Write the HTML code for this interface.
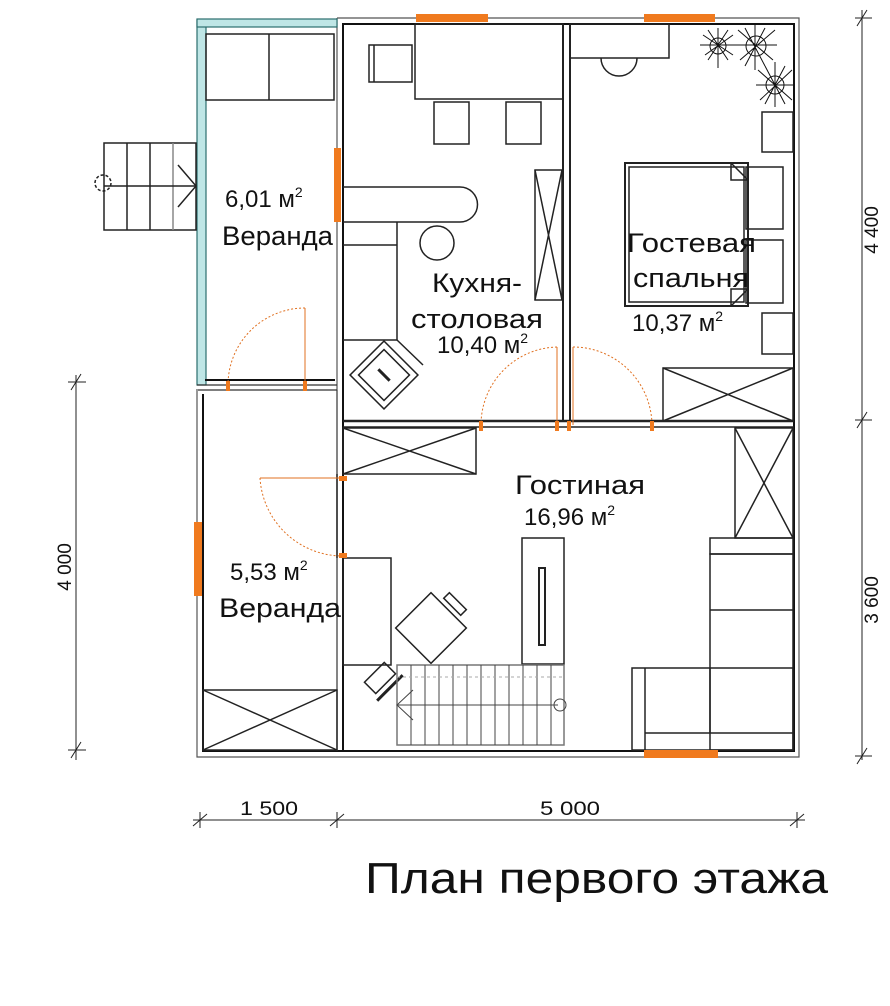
<!DOCTYPE html>
<html><head><meta charset="utf-8">
<style>
html,body{margin:0;padding:0;background:#fff;}
svg{display:block;}
text{font-family:"Liberation Sans",sans-serif;fill:#111;}
</style></head><body>
<svg width="890" height="1006" viewBox="0 0 890 1006" xmlns="http://www.w3.org/2000/svg">
<g fill="none" stroke="#222" stroke-width="1.5">
<path d="M337 18 H799 V757 H197 V389" stroke="#555" stroke-width="1.2"/>
<path d="M342 24 H794 V751 H203 V394" stroke="#111" stroke-width="2"/>
<line x1="337" y1="18" x2="337" y2="390" stroke="#555" stroke-width="1.2"/>
<line x1="343" y1="24" x2="343" y2="750" stroke="#111" stroke-width="2"/>
<line x1="337" y1="390" x2="337" y2="751" stroke="#333" stroke-width="1.2"/>
<rect x="197" y="20" width="9" height="365" fill="#bfe6e6" stroke="#2b6d6d" stroke-width="1.2"/>
<rect x="197" y="19" width="140" height="8" fill="#bfe6e6" stroke="#2b6d6d" stroke-width="1.2"/>
<line x1="197" y1="385" x2="337" y2="385" stroke="#333" stroke-width="1.2"/>
<line x1="205" y1="380" x2="335" y2="380" stroke="#111" stroke-width="2"/>
<line x1="198" y1="390" x2="337" y2="390" stroke="#333" stroke-width="1.2"/>
<line x1="563" y1="24" x2="563" y2="422" stroke-width="2"/>
<line x1="570" y1="24" x2="570" y2="422" stroke-width="2"/>
<line x1="343" y1="421" x2="794" y2="421" stroke-width="2.5"/>
<line x1="343" y1="427" x2="794" y2="427" stroke-width="1.5"/>
<rect x="206" y="34" width="128" height="66"/>
<line x1="269" y1="34" x2="269" y2="100"/>
<rect x="104" y="143" width="92" height="87"/>
<line x1="127" y1="143" x2="127" y2="230"/>
<line x1="150" y1="143" x2="150" y2="230"/>
<line x1="173" y1="143" x2="173" y2="230" stroke="#888"/>
<line x1="104" y1="186" x2="196" y2="186"/>
<polyline points="178,165 196,186 178,207"/>
<circle cx="103" cy="183" r="8" stroke-dasharray="3 2"/>
<rect x="369" y="45" width="43" height="37"/>
<line x1="374" y1="45" x2="374" y2="82"/>
<rect x="415" y="24" width="148" height="75"/>
<rect x="434" y="102" width="35" height="42"/>
<rect x="506" y="102" width="35" height="42"/>
<path d="M343 187 H460 A17.5 17.5 0 0 1 460 222 H343"/>
<circle cx="437" cy="243" r="17"/>
<path d="M397 222 V340 M343 245 H397 M343 340 H397"/>
<rect x="535" y="170" width="27" height="130"/>
<path d="M535 170 L562 300 M562 170 L535 300"/>
<g transform="translate(384 375) rotate(45)">
<rect x="-24" y="-24" width="48" height="48"/>
<rect x="-18" y="-18" width="36" height="36"/>
<line x1="-8" y1="0" x2="8" y2="0" stroke-width="3"/>
</g>
<line x1="397" y1="340" x2="423" y2="365"/>
<rect x="570" y="24" width="99" height="34"/>
<path d="M601 58 A18 18 0 0 0 637 58"/>
<rect x="625" y="163" width="123" height="143" stroke-width="2"/>
<rect x="629" y="167" width="115" height="135"/>
<path d="M731 163 L748 180 M731 163 V180 H748 M731 306 L748 289 M731 306 V289 H748"/>
<rect x="746" y="167" width="37" height="62"/>
<rect x="746" y="240" width="37" height="63"/>
<rect x="762" y="112" width="31" height="40"/>
<rect x="762" y="313" width="31" height="41"/>
<rect x="663" y="368" width="130" height="53"/>
<path d="M663 368 L793 421 M793 368 L663 421"/>
<g stroke="#111" stroke-width="1">
<path d="M703 35 l30 20 M718 28 l0 40 M705 55 l28 -20 M700 45 h36 M708 30 l20 30 M728 30 l-20 30"/>
<path d="M738 30 l35 30 M755 25 l0 45 M740 60 l35 -30 M735 45 h42 M745 28 l20 38 M765 28 l-20 38"/>
<path d="M758 70 l34 30 M775 62 l0 45 M760 100 l32 -30 M756 85 h38 M765 66 l20 38 M785 66 l-20 38"/>
<circle cx="718" cy="46" r="8"/><circle cx="756" cy="46" r="10"/><circle cx="775" cy="85" r="9"/>
</g>
<rect x="343" y="428" width="133" height="46"/>
<path d="M343 428 L476 474 M476 428 L343 474"/>
<rect x="735" y="428" width="58" height="110"/>
<path d="M735 428 L793 538 M793 428 L735 538"/>
<rect x="710" y="538" width="83" height="16"/>
<rect x="710" y="554" width="83" height="196"/>
<line x1="710" y1="610" x2="793" y2="610"/>
<rect x="632" y="668" width="161" height="82"/>
<line x1="645" y1="668" x2="645" y2="750"/>
<line x1="645" y1="733" x2="793" y2="733"/>
<line x1="710" y1="668" x2="710" y2="733"/>
<rect x="522" y="538" width="42" height="126"/>
<path d="M539 568 L545 568 L545 645 L539 645 Z" stroke-width="2"/>
<rect x="343" y="558" width="48" height="107"/>
<g transform="translate(431 628) rotate(45)">
<rect x="-25" y="-25" width="50" height="50"/>
<rect x="-12" y="-38" width="24" height="8"/>
</g>
<g transform="translate(380 678) rotate(-45)">
<rect x="-14" y="-8" width="28" height="16"/>
<line x1="-18" y1="14" x2="18" y2="14" stroke-width="3"/>
</g>
<rect x="397" y="665" width="167" height="80" stroke="#777"/>
<g stroke="#444" stroke-width="1">
<line x1="411" y1="665" x2="411" y2="745"/><line x1="425" y1="665" x2="425" y2="745"/>
<line x1="439" y1="665" x2="439" y2="745"/><line x1="453" y1="665" x2="453" y2="745"/>
<line x1="467" y1="665" x2="467" y2="745"/><line x1="481" y1="665" x2="481" y2="745"/>
<line x1="495" y1="665" x2="495" y2="745"/><line x1="509" y1="665" x2="509" y2="745"/>
<line x1="523" y1="665" x2="523" y2="745"/><line x1="537" y1="665" x2="537" y2="745"/>
<line x1="551" y1="665" x2="551" y2="745"/>
<line x1="397" y1="705" x2="558" y2="705"/>
<polyline points="413,690 397,705 413,720"/>
<circle cx="560" cy="705" r="6"/>
<line x1="397" y1="677" x2="564" y2="677" stroke-dasharray="3 3" stroke="#aaa"/>
</g>
<rect x="203" y="690" width="134" height="60"/>
<path d="M203 690 L337 750 M337 690 L203 750"/>
<line x1="337" y1="474" x2="337" y2="558"/>
</g>
<g fill="none" stroke="#e07020" stroke-width="1">
<path d="M557 347 A78 78 0 0 0 481 425" stroke-dasharray="2 2"/>
<line x1="557" y1="347" x2="557" y2="425"/>
<path d="M573 347 A79 79 0 0 1 652 425" stroke-dasharray="2 2"/>
<line x1="573" y1="347" x2="573" y2="425"/>
<path d="M305 308 A77 77 0 0 0 228 385" stroke-dasharray="2 2"/>
<line x1="305" y1="308" x2="305" y2="385"/>
<path d="M260 478 A83 83 0 0 0 343 556" stroke-dasharray="2 2"/>
<line x1="260" y1="478" x2="343" y2="478"/>
</g>
<g fill="#f07a1e">
<rect x="416" y="14" width="72" height="8"/>
<rect x="644" y="14" width="71" height="8"/>
<rect x="334" y="148" width="7" height="74"/>
<rect x="194" y="522" width="8" height="74"/>
<rect x="644" y="750" width="74" height="8"/>
<rect x="479" y="421" width="4" height="10"/><rect x="555" y="421" width="4" height="10"/>
<rect x="567" y="421" width="4" height="10"/><rect x="650" y="421" width="4" height="10"/>
<rect x="226" y="381" width="4" height="10"/><rect x="303" y="381" width="4" height="10"/>
<rect x="339" y="476" width="8" height="5"/><rect x="339" y="553" width="8" height="5"/>
</g>
<g stroke="#222" stroke-width="1" fill="none">
<line x1="862" y1="10" x2="862" y2="760"/>
<path d="M855 18 H872 M857 26 L867 10 M855 420 H872 M857 428 L867 412 M855 756 H872 M857 764 L867 748"/>
<line x1="76" y1="375" x2="76" y2="760"/>
<path d="M68 382 H86 M71 390 L81 374 M68 750 H86 M71 758 L81 742"/>
<line x1="193" y1="820" x2="805" y2="820"/>
<path d="M200 812 V828 M193 826 L207 814 M337 812 V828 M330 826 L344 814 M797 812 V828 M790 826 L804 814"/>
</g>
<g font-size="19">
<text x="878" y="230" transform="rotate(-90 878 230)" text-anchor="middle">4 400</text>
<text x="878" y="600" transform="rotate(-90 878 600)" text-anchor="middle">3 600</text>
<text x="71" y="567" transform="rotate(-90 71 567)" text-anchor="middle">4 000</text>
<text x="240" y="815" textLength="58" lengthAdjust="spacingAndGlyphs">1 500</text>
<text x="540" y="815" textLength="60" lengthAdjust="spacingAndGlyphs">5 000</text>
</g>
<g font-size="24" lengthAdjust="spacingAndGlyphs">
<text x="225" y="207">6,01 м<tspan font-size="14" dy="-10">2</tspan></text>
<text x="222" y="245" font-size="27" textLength="111" lengthAdjust="spacingAndGlyphs">Веранда</text>
<text x="432" y="292" font-size="27" textLength="90" lengthAdjust="spacingAndGlyphs">Кухня-</text>
<text x="411" y="328" font-size="27" textLength="132" lengthAdjust="spacingAndGlyphs">столовая</text>
<text x="437" y="353">10,40 м<tspan font-size="14" dy="-10">2</tspan></text>
<text x="627" y="252" font-size="27" textLength="129" lengthAdjust="spacingAndGlyphs">Гостевая</text>
<text x="633" y="287" font-size="27" textLength="116" lengthAdjust="spacingAndGlyphs">спальня</text>
<text x="632" y="331">10,37 м<tspan font-size="14" dy="-10">2</tspan></text>
<text x="515" y="494" font-size="27" textLength="130" lengthAdjust="spacingAndGlyphs">Гостиная</text>
<text x="524" y="525">16,96 м<tspan font-size="14" dy="-10">2</tspan></text>
<text x="230" y="580">5,53 м<tspan font-size="14" dy="-10">2</tspan></text>
<text x="219" y="617" font-size="27" textLength="122" lengthAdjust="spacingAndGlyphs">Веранда</text>
</g>
<text x="365" y="893" font-size="44" textLength="463" lengthAdjust="spacingAndGlyphs">План первого этажа</text>
</svg>
</body></html>
